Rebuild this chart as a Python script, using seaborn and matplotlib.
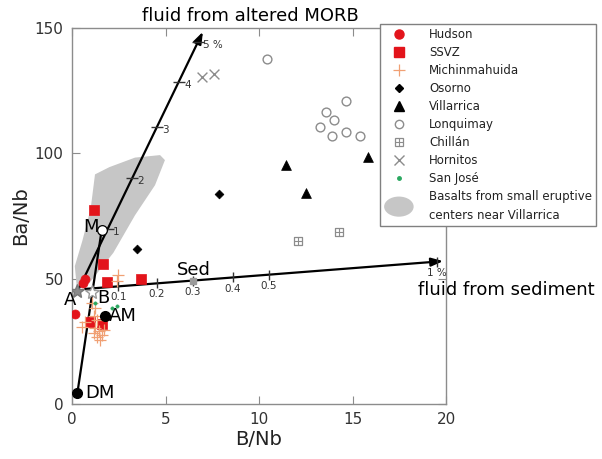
import numpy as np
import pandas as pd
import matplotlib
matplotlib.use("Agg")
import matplotlib.pyplot as plt
import matplotlib.patches as mpatches
from matplotlib.lines import Line2D
from matplotlib.legend_handler import HandlerPatch, HandlerTuple
import seaborn as sns

# ---- sample compositions (B/Nb, Ba/Nb) ----
hudson_bnb = [0.68, 0.57, 0.18]
hudson_banb = [49.9, 48.3, 36.0]
ssvz_bnb = [1.18, 1.64, 1.87, 3.71, 0.98, 1.60]
ssvz_banb = [77.2, 56.0, 48.7, 49.9, 32.9, 32.0]
michin_bnb = [2.48, 2.40, 1.07, 1.25, 1.16, 1.34, 0.71, 0.53, 1.25, 1.43,
              1.16, 1.60, 1.34, 1.51, 1.69]
michin_banb = [51.6, 49.0, 40.3, 38.3, 35.0, 33.6, 32.9, 30.9, 30.3, 29.0,
               28.3, 27.6, 26.9, 25.6, 29.6]
osorno_bnb = [7.84, 3.46]
osorno_banb = [83.7, 62.0]
villarrica_bnb = [11.44, 12.53, 15.81]
villarrica_banb = [95.2, 84.3, 98.4]
lonquimay_bnb = [10.43, 14.65, 13.58, 13.99, 13.28, 13.89, 14.63, 15.38]
lonquimay_banb = [137.6, 120.8, 116.5, 113.3, 110.4, 106.9, 108.7, 106.9]
chillan_bnb = [12.1, 14.28]
chillan_banb = [64.9, 68.8]
hornitos_bnb = [6.95, 7.58]
hornitos_banb = [130.3, 131.6]
sanjose_bnb = [1.16, 1.25, 2.14, 2.40]
sanjose_banb = [45.0, 40.3, 38.3, 39.2]

# ---- small eruptive centres near Villarrica (field outline) ----
field_bnb = [0.27, 0.15, 0.55, 1.0, 1.23, 2.0, 3.37, 4.71, 4.97, 4.44, 3.37, 2.21, 0.9]
field_banb = [45.5, 55.0, 65.0, 78.0, 91.6, 94.5, 98.3, 99.3, 97.3, 87.3, 75.3, 60.3, 48.0]

# ---- end-members and mixing vectors ----
dm = (0.29, 4.5)
m_point = (1.59, 69.6)
am = (1.78, 35.3)
a_point = (0.27, 44.9)
b_point = (1.07, 44.5)
morb_start, morb_end = (0.3, 45.0), (7.0, 148.5)
sed_start, sed_end = (0.7, 45.9), (19.85, 57.0)
morb_tick_frac = [0.239, 0.435, 0.633, 0.807, 0.960]
morb_tick_labels = ["1", "2", "3", "4", "5 %"]
sed_tick_bnb = [2.48, 4.53, 6.45, 8.59, 10.53, 19.5]
sed_tick_labels = ["0.1", "0.2", "0.3", "0.4", "0.5", "1 %"]

groups = [
    ("Hudson", hudson_bnb, hudson_banb),
    ("SSVZ", ssvz_bnb, ssvz_banb),
    ("Michinmahuida", michin_bnb, michin_banb),
    ("Osorno", osorno_bnb, osorno_banb),
    ("Villarrica", villarrica_bnb, villarrica_banb),
    ("Lonquimay", lonquimay_bnb, lonquimay_banb),
    ("Chillán", chillan_bnb, chillan_banb),
    ("Hornitos", hornitos_bnb, hornitos_banb),
    ("San José", sanjose_bnb, sanjose_banb),
]
df = pd.concat([pd.DataFrame({"B/Nb": x, "Ba/Nb": y, "volcano": n}) for n, x, y in groups],
               ignore_index=True)

RED = "#e3141b"
ORANGE = "#f0a074"
GRAY = "#8c8c8c"
GREEN = "#2aa860"
styles = {
    "Hudson": dict(marker="o", s=42, color=RED, edgecolor=RED, linewidth=0.5),
    "SSVZ": dict(marker="s", s=42, color=RED, edgecolor=RED, linewidth=0.5),
    "Michinmahuida": dict(marker="+", s=80, color=ORANGE, linewidth=0.9),
    "Osorno": dict(marker="D", s=20, color="black", edgecolor="black", linewidth=0.5),
    "Villarrica": dict(marker="^", s=50, color="black", edgecolor="black", linewidth=0.5),
    "Lonquimay": dict(marker="o", s=40, facecolor="white", edgecolor=GRAY, linewidth=1.0),
    "Chillán": dict(marker="s", s=36, facecolor="white", edgecolor=GRAY, linewidth=0.9),
    "Hornitos": dict(marker="x", s=50, color=GRAY, linewidth=1.0),
    "San José": dict(marker="o", s=6, color=GREEN, edgecolor=GREEN, linewidth=0.3),
}

sns.set_style("ticks")
plt.rcParams["font.family"] = ["DejaVu Sans"]
plt.rcParams["axes.edgecolor"] = GRAY
plt.rcParams["xtick.color"] = GRAY
plt.rcParams["ytick.color"] = GRAY
plt.rcParams["xtick.labelcolor"] = "#333333"
plt.rcParams["ytick.labelcolor"] = "#333333"

fig = plt.figure(figsize=(6.02, 4.59), dpi=100)
ax = fig.add_axes([72 / 602, 55 / 459, 374 / 602, 376 / 459])

# basalt field
ax.fill(field_bnb, field_banb, color="#c6c6c6", lw=0, zorder=1)

# mixing lines
ax.plot([dm[0], m_point[0]], [dm[1], m_point[1]], color="black", lw=1.6, zorder=3)
for s0, s1 in [(morb_start, morb_end), (sed_start, sed_end)]:
    ax.annotate("", xy=s1, xytext=s0, zorder=3,
                arrowprops=dict(arrowstyle="-|>,head_length=0.7,head_width=0.25",
                                color="black", lw=1.6, shrinkA=0, shrinkB=0))

# MORB-fluid ticks
mx = [morb_start[0] + f * (morb_end[0] - morb_start[0]) for f in morb_tick_frac]
my = [morb_start[1] + f * (morb_end[1] - morb_start[1]) for f in morb_tick_frac]
ax.plot(mx, my, ls="none", marker="_", ms=8, mew=1.0, color="#333333", zorder=4)
for x, y, lab in zip(mx, my, morb_tick_labels):
    ax.annotate(lab, (x, y), xytext=(4, -2), textcoords="offset points",
                ha="left", va="center", fontsize=7.5, color="#333333")

# sediment-fluid ticks
slope = (sed_end[1] - sed_start[1]) / (sed_end[0] - sed_start[0])
sy = [sed_start[1] + slope * (x - sed_start[0]) for x in sed_tick_bnb]
ax.plot(sed_tick_bnb, sy, ls="none", marker="|", ms=7, mew=1.0, color="#333333", zorder=4)
for x, y, lab in zip(sed_tick_bnb, sy, sed_tick_labels):
    ax.annotate(lab, (x, y), xytext=(0, -8), textcoords="offset points",
                ha="center", va="center", fontsize=7.5, color="#333333")
# sediment end-member marker on the 0.3 tick
ax.plot([sed_tick_bnb[2]], [sy[2]], marker="s", ms=5, color="#9a9a9a", zorder=5)

# sample points
for name, _, _ in groups:
    sub = df[df["volcano"] == name]
    sns.scatterplot(data=sub, x="B/Nb", y="Ba/Nb", ax=ax, legend=False,
                    zorder=6, **styles[name])
sns.scatterplot(data=df[df["volcano"] == "Chillán"], x="B/Nb", y="Ba/Nb", ax=ax,
                legend=False, marker="+", s=30, color=GRAY, linewidth=0.8, zorder=7)

# end-member points
ax.plot(*a_point, marker="*", ms=10, color="#8a8a8a", mec="#777777", zorder=6)
ax.plot(*b_point, marker="*", ms=10, color="white", mec="#999999", zorder=6)
ax.plot(*dm, marker="o", ms=7, color="black", zorder=7)
ax.plot(*am, marker="o", ms=7, color="black", zorder=7)
ax.plot(*m_point, marker="o", ms=7, mfc="white", mec="black", mew=0.9, zorder=7)

lab_kw = dict(fontsize=13, color="black", va="center")
ax.text(dm[0] + 0.42, dm[1], "DM", ha="left", **lab_kw)
ax.text(am[0] + 0.17, am[1], "AM", ha="left", **lab_kw)
ax.text(m_point[0] - 0.18, m_point[1] + 1.0, "M", ha="right", **lab_kw)
ax.text(-0.09, 41.6, "A", ha="center", **lab_kw)
ax.text(1.68, 42.3, "B", ha="center", **lab_kw)
ax.text(6.53, 53.6, "Sed", ha="center", **lab_kw)
ax.text(3.72, 154.8, "fluid from altered MORB", ha="left", clip_on=False, **lab_kw)
ax.text(18.5, 45.6, "fluid from sediment", ha="left", clip_on=False, **lab_kw)

ax.set_xlim(0, 20)
ax.set_ylim(0, 150)
ax.set_xticks([0, 5, 10, 15, 20])
ax.set_yticks([0, 50, 100, 150])
ax.tick_params(direction="in", length=6, width=0.8, labelsize=11,
               top=True, right=True, pad=6)
ax.set_xlabel("B/Nb", fontsize=14, color="#222222", labelpad=2)
ax.set_ylabel("Ba/Nb", fontsize=14, color="#222222", labelpad=3)
for sp in ax.spines.values():
    sp.set_linewidth(1.0)
    sp.set_color(GRAY)


class HandlerEllipse(HandlerPatch):
    def create_artists(self, legend, orig_handle, xdescent, ydescent,
                       width, height, fontsize, trans):
        center = (0.5 * width - 0.5 * xdescent, 0.5 * height - 0.5 * ydescent)
        p = mpatches.Ellipse(xy=center, width=width + xdescent, height=14.5)
        self.update_prop(p, orig_handle, legend)
        p.set_transform(trans)
        return [p]


def mk(**kw):
    return Line2D([], [], ls="none", **kw)


handles = [
    mk(marker="o", ms=6.5, color=RED),
    mk(marker="s", ms=6.5, color=RED),
    mk(marker="+", ms=9, mew=0.9, color=ORANGE),
    mk(marker="D", ms=4.5, color="black"),
    mk(marker="^", ms=7, color="black"),
    mk(marker="o", ms=6, mfc="white", mec=GRAY, mew=1.0),
    (mk(marker="s", ms=6, mfc="white", mec=GRAY, mew=0.9),
     mk(marker="+", ms=5.5, mew=0.8, color=GRAY)),
    mk(marker="x", ms=7, mew=1.0, color=GRAY),
    mk(marker="o", ms=2.5, color=GREEN),
    mpatches.Ellipse((0, 0), 1, 1, facecolor="#c6c6c6", edgecolor="none"),
]
labels = [g[0] for g in groups] + ["Basalts from small eruptive\ncenters near Villarrica"]
leg = fig.legend(handles, labels, loc="upper left",
                 bbox_to_anchor=(380 / 602, 1 - 24 / 459), borderaxespad=0,
                 fontsize=8.5, frameon=True, fancybox=False, framealpha=1,
                 edgecolor="#808080", handlelength=2.5, handletextpad=1.3,
                 labelspacing=0.42, borderpad=0.35,
                 handler_map={mpatches.Ellipse: HandlerEllipse(),
                              tuple: HandlerTuple(ndivide=1)})
leg.get_frame().set_linewidth(1.0)
for t in leg.get_texts():
    t.set_color("#222222")
leg.get_texts()[-1].set_linespacing(1.6)

fig.savefig("out.png", dpi=100)
